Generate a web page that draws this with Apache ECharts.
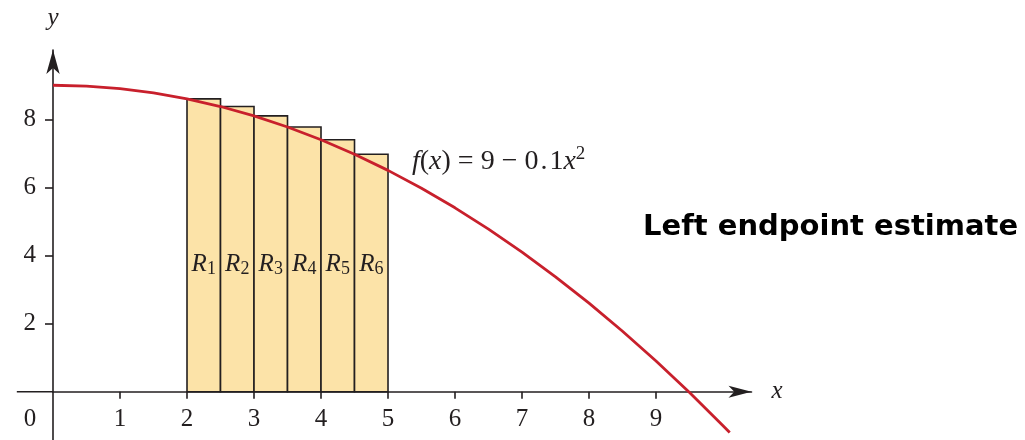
<!DOCTYPE html>
<html>
<head>
<meta charset="utf-8">
<script src="https://cdn.jsdelivr.net/npm/echarts@6/dist/echarts.min.js"></script>
<style>
  html, body { margin: 0; padding: 0; background: #ffffff; }
  #chart { width: 1025px; height: 440px; }
</style>
</head>
<body>
<div id="chart"></div>
<script>
// f(x) = 9 - 0.1x^2, sampled every 0.5 along x
const curveX = [0, 0.5, 1, 1.5, 2, 2.5, 3, 3.5, 4, 4.5, 5, 5.5, 6, 6.5, 7, 7.5, 8, 8.5, 9, 9.5, 10, 10.1];
const curveY = [9, 8.975, 8.9, 8.775, 8.6, 8.375, 8.1, 7.775, 7.4, 6.975, 6.5, 5.975, 5.4, 4.775, 4.1, 3.375, 2.6, 1.775, 0.9, -0.025, -1, -1.201];

// Left-endpoint rectangles R1..R6 on [2, 5]
const rectLeft = [2, 2.5, 3, 3.5, 4, 4.5];
const rectHeight = [8.6, 8.375, 8.1, 7.775, 7.4, 6.975];
const rectWidth = 0.5;

// Axis ticks and labels
const xTicks = [1, 2, 3, 4, 5, 6, 7, 8, 9];
const xLabels = [0, 1, 2, 3, 4, 5, 6, 7, 8, 9];
const yTicks = [2, 4, 6, 8];

// The axes run a little past the origin: x to the left, y downward
const axisTails = [[-0.54, 0, 0, 0], [0, -1.42, 0, 0]];

const SERIF = "'Liberation Serif', 'DejaVu Serif', serif";
const INK = '#231f20';
const LABEL_Y = 3.75;

const chart = echarts.init(document.getElementById('chart'), null, { renderer: 'canvas' });

const option = {
  backgroundColor: '#ffffff',
  animation: false,
  grid: { left: 53, right: 273.5, top: 50, bottom: 48.3, containLabel: false, outerBoundsMode: 'none' },
  title: {
    text: 'Left endpoint estimate',
    left: 638,
    top: 208,
    textStyle: { fontFamily: "'DejaVu Sans', sans-serif", fontWeight: 'bold', fontSize: 29, color: '#000000' }
  },
  graphic: [{
    type: 'text',
    left: 412,
    top: 145,
    style: {
      text: '{i|f}{n|(}{i|x}{n|)}{op|=}{n|9}{op|−}{n|0}{dot|.}{n|1}{i|x}{sup|2}',
      fill: INK,
      rich: {
        i: { fontFamily: SERIF, fontStyle: 'italic', fontSize: 28, fill: INK },
        n: { fontFamily: SERIF, fontSize: 28, fill: INK },
        dot: { fontFamily: SERIF, fontSize: 28, fill: INK, padding: [0, 2, 0, 2] },
        op: { fontFamily: SERIF, fontSize: 28, fill: INK, padding: [0, 7, 0, 7] },
        sup: { fontFamily: SERIF, fontSize: 19, fill: INK, padding: [0, 0, 14, 0] }
      }
    }
  }],
  xAxis: {
    type: 'value',
    min: 0,
    max: 10.425,
    name: 'x',
    nameLocation: 'end',
    nameGap: 20,
    nameTextStyle: { fontFamily: SERIF, fontStyle: 'italic', fontSize: 25, color: INK, verticalAlign: 'middle' },
    axisLine: {
      onZero: false,
      symbol: ['none', 'arrow'],
      symbolSize: [9, 23],
      lineStyle: { color: INK, width: 1.6 }
    },
    axisTick: { show: true, customValues: xTicks, length: 7, inside: false, lineStyle: { color: INK, width: 1.6 } },
    axisLabel: {
      customValues: xLabels,
      margin: 15,
      fontFamily: SERIF,
      fontSize: 25,
      color: INK,
      formatter: v => v === 0 ? '{z|0}' : String(v),
      rich: { z: { fontFamily: SERIF, fontSize: 25, color: INK, padding: [0, 46, 0, 0] } }
    },
    splitLine: { show: false }
  },
  yAxis: {
    type: 'value',
    min: 0,
    max: 10.035,
    name: 'y',
    nameLocation: 'end',
    nameGap: 19,
    nameTextStyle: { fontFamily: SERIF, fontStyle: 'italic', fontSize: 25, color: INK, align: 'center' },
    axisLine: {
      onZero: false,
      symbol: ['none', 'arrow'],
      symbolSize: [10, 24],
      lineStyle: { color: INK, width: 1.6 }
    },
    axisTick: { show: true, customValues: yTicks, length: 8, inside: false, lineStyle: { color: INK, width: 1.6 } },
    axisLabel: { customValues: yTicks, margin: 17, fontFamily: SERIF, fontSize: 25, color: INK },
    splitLine: { show: false }
  },
  series: [
    {
      // axis extensions beyond the origin
      type: 'custom',
      z: 1,
      silent: true,
      data: axisTails,
      renderItem: (params, api) => {
        const a = api.coord([api.value(0), api.value(1)]);
        const b = api.coord([api.value(2), api.value(3)]);
        return {
          type: 'line',
          shape: { x1: a[0], y1: a[1], x2: b[0], y2: b[1] },
          style: { stroke: INK, lineWidth: 1.6 }
        };
      }
    },
    {
      type: 'custom',
      z: 2,
      data: rectLeft.map((x, i) => [x, rectHeight[i], i + 1]),
      renderItem: (params, api) => {
        const x0 = api.value(0);
        const h = api.value(1);
        const n = api.value(2);
        const base = api.coord([x0, 0]);
        const top = api.coord([x0 + rectWidth, h]);
        const mid = api.coord([x0 + rectWidth / 2, LABEL_Y]);
        return {
          type: 'group',
          children: [
            {
              type: 'rect',
              shape: { x: base[0], y: top[1], width: top[0] - base[0], height: base[1] - top[1] },
              style: { fill: '#fce3a8', stroke: INK, lineWidth: 1.6 }
            },
            {
              type: 'text',
              x: mid[0],
              y: mid[1],
              style: {
                text: '{r|R}{s|' + n + '}',
                align: 'center',
                verticalAlign: 'middle',
                rich: {
                  r: { fontFamily: SERIF, fontStyle: 'italic', fontSize: 25, fill: INK },
                  s: { fontFamily: SERIF, fontSize: 18, fill: INK, padding: [11, 0, 0, 0] }
                }
              }
            }
          ]
        };
      }
    },
    {
      type: 'line',
      z: 3,
      data: curveX.map((x, i) => [x, curveY[i]]),
      showSymbol: false,
      smooth: false,
      clip: false,
      lineStyle: { color: '#c8202c', width: 2.8 }
    }
  ]
};

chart.setOption(option);
</script>
</body>
</html>
